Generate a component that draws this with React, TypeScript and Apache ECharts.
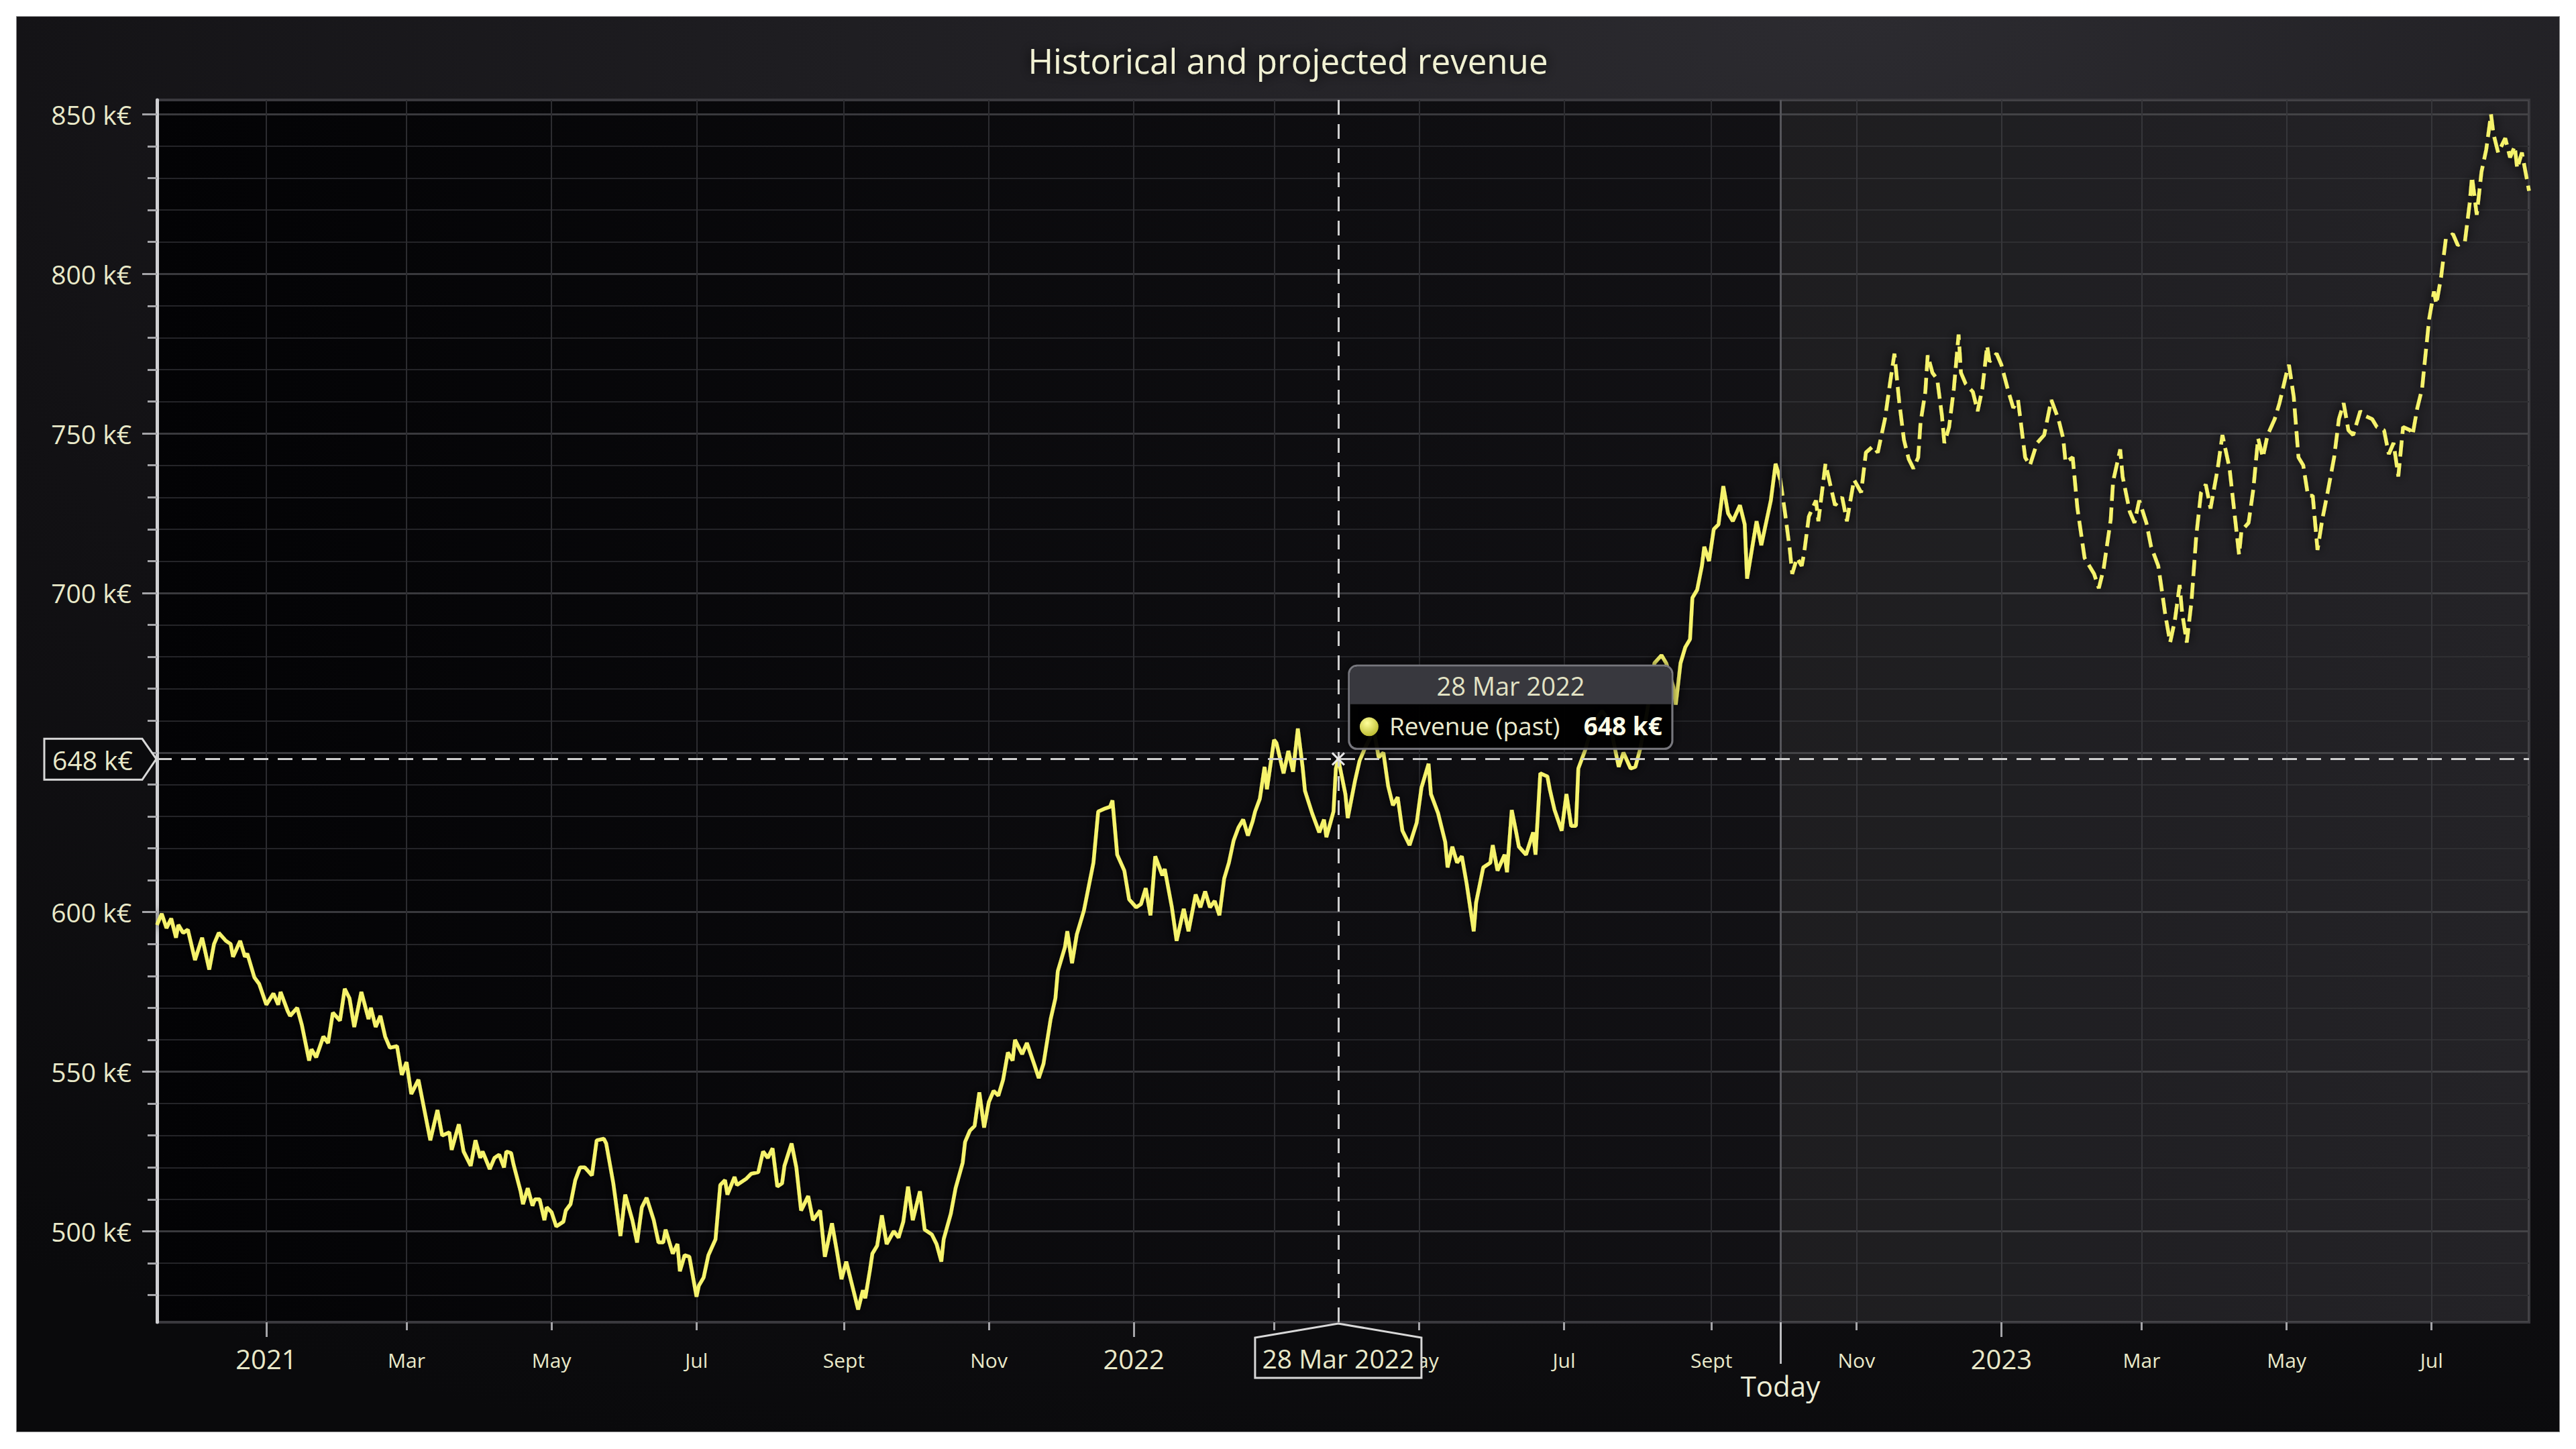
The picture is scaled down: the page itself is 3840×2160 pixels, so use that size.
import React, { useEffect, useRef } from 'react';
import * as echarts from 'echarts';

const TITLE = 'Historical and projected revenue';
const SERIES_PAST = 'Revenue (past)';
const SERIES_FUTURE = 'Revenue (projected)';
const UNIT = 'k€';
const BASE_DATE = '2021-01-01';
const START_DAY = -46;
const END_DAY = 952;
const TODAY_DAY = 637;
const TODAY_LABEL = 'Today';
const CROSS_DAY = 451;
const CROSS_VALUE = 648;
const Y_MIN = 471.5;
const Y_MAX = 854.5;

const yMajorTicks = [500, 550, 600, 650, 700, 750, 800, 850];
const yMinorTicks = [480, 490, 510, 520, 530, 540, 560, 570, 580, 590, 610, 620, 630, 640, 660, 670, 680, 690, 710, 720, 730, 740, 760, 770, 780, 790, 810, 820, 830, 840];
const monthTickDates = ['2021-03-01', '2021-05-01', '2021-07-01', '2021-09-01', '2021-11-01', '2022-03-01', '2022-05-01', '2022-07-01', '2022-09-01', '2022-11-01', '2023-03-01', '2023-05-01', '2023-07-01'];
const yearTickDates = ['2021-01-01', '2022-01-01', '2023-01-01'];
const monthLabels = ['Jan', 'Feb', 'Mar', 'Apr', 'May', 'Jun', 'Jul', 'Aug', 'Sept', 'Oct', 'Nov', 'Dec'];
const monthShort = ['Jan', 'Feb', 'Mar', 'Apr', 'May', 'Jun', 'Jul', 'Aug', 'Sep', 'Oct', 'Nov', 'Dec'];

// days are offsets from BASE_DATE
const pastDays = [-46, -44, -42, -40, -38, -37, -35, -33, -30, -27, -24, -22, -20, -17, -15, -14, -11, -9, -8, -5, -3, 0, 3, 5, 6, 9, 10, 13, 15, 18, 19, 21, 24, 26, 28, 31, 33, 35, 37, 40, 43, 44, 46, 48, 50, 52, 55, 57, 59, 61, 64, 69, 72, 74, 77, 78, 81, 83, 86, 88, 90, 91, 94, 96, 98, 100, 101, 103, 104, 107, 108, 110, 112, 113, 115, 117, 118, 120, 122, 125, 126, 128, 130, 132, 134, 137, 139, 142, 143, 146, 149, 151, 154, 156, 158, 160, 163, 165, 167, 168, 171, 173, 174, 176, 178, 181, 182, 184, 186, 189, 191, 193, 194, 197, 198, 202, 204, 207,
  209, 211, 213, 215, 217, 218, 221, 223, 225, 228, 230, 233, 235, 238, 240, 242, 244, 247, 249, 251, 252, 254, 255, 257, 259, 261, 264, 266, 268, 270, 272, 275, 277, 280, 282, 284, 285, 288, 290, 293, 294, 296, 298, 300, 302, 304, 306, 308, 310, 312, 314, 315, 318, 320, 323, 325, 327, 330, 332, 333, 336, 337, 339, 341, 344, 346, 348, 350, 353, 355, 356, 358, 361, 363, 366, 368, 370, 372, 374, 377, 378, 381, 383, 386, 388, 391, 393, 395, 397, 399, 401, 403, 405, 407, 409, 411, 413, 415, 416, 418, 420, 421, 424, 425, 428, 430, 432, 434, 436, 437, 440, 441, 443, 445, 446, 449, 450,
  451, 454, 455, 458, 460, 462, 466, 468, 470, 472, 474, 476, 478, 481, 484, 486, 489, 490, 493, 496, 497, 499, 501, 503, 505, 508, 509, 512, 515, 516, 518, 521, 522, 524, 526, 527, 530, 533, 534, 536, 539, 540, 542, 545, 547, 549, 551, 552, 555, 558, 562, 565, 569, 571, 574, 576, 578, 581, 584, 587, 589, 592, 593, 595, 597, 599, 600, 602, 604, 605, 607, 609, 611, 613, 615, 617, 620, 622, 623, 625, 627, 629, 630, 633, 635, 637];
const pastValues = [596, 599.5, 595, 598, 592, 596, 593.5, 594.5, 585, 592, 582, 590, 593.5, 591, 590, 586, 591, 586, 587, 579.5, 577.5, 571, 574.5, 571, 575, 569, 567.5, 570, 564.5, 553.5, 557, 554.5, 561, 559, 568.5, 566, 576, 573, 564, 575, 566.5, 570, 564, 567.5, 561, 557.5, 558, 549, 553, 543, 547.5, 528.5, 538, 530, 531, 525.5, 533.5, 525, 520.5, 528.5, 523, 525, 519.5, 523, 524, 520, 525, 524.5, 521, 512.5, 508.5, 513.5, 508, 510, 510, 503.5, 507.5, 506, 501.5, 503, 506.5, 508.5, 516, 520, 520, 517.5, 528.5, 529, 527.5, 515, 498.5, 511.5, 503.5, 496.5, 507.5, 510.5, 503.5, 496.5, 496.5, 500.5, 493, 496, 487.5, 492.5, 492, 479.5, 483, 485.5, 492.5, 497.5, 514.5, 516, 511.5, 517, 514.5, 516.5, 518, 518.5,
  525, 523, 526, 514, 515, 520.5, 527.5, 520, 506.5, 511, 503.5, 506.5, 492, 502.5, 494, 485, 490.5, 481.5, 475.5, 481.5, 479, 488, 493, 495.5, 505, 496, 500, 498, 503, 514, 503.5, 512.5, 500.5, 499, 496, 490.5, 497.5, 505.5, 513.5, 521.5, 528, 531.5, 533, 543.5, 532.5, 540.5, 544, 542.5, 547.5, 556, 553.5, 560, 555.5, 559, 552.5, 548, 552.5, 566.5, 573, 581.5, 589, 594, 584, 593, 600.5, 608, 615.5, 631.5, 632.5, 633, 635, 618, 613, 604, 601.5, 602.5, 607.5, 599, 617.5, 611.5, 613.5, 601.5, 591, 601, 594, 605.5, 601.5, 606.5, 601.5, 603.5, 599, 610.5, 615.5, 622.5, 626.5, 629, 624, 628.5, 631.5, 635.5, 645.5, 638.5, 654, 653, 643.5, 650.5, 644, 657.5, 645.5, 638, 631, 629, 625, 629, 623.5, 631.5, 645,
  648, 637, 629.5, 641, 647.5, 651, 657, 648.5, 650, 639.5, 633.5, 636, 625.5, 621, 628, 639, 646.5, 637, 631, 622, 614, 620.5, 615.5, 617.5, 609, 594, 603, 614, 615.5, 621, 613, 618, 612.5, 632, 624.5, 620.5, 618, 625, 618, 643.5, 642.5, 638.5, 632, 625.5, 637, 627, 627, 645, 651, 659, 663, 660, 645.5, 650, 645, 645.5, 651, 663, 678, 680.5, 678, 670.5, 665, 678, 683, 685.5, 698.5, 701, 708.5, 714.5, 710, 720, 721.5, 733.5, 725, 722.5, 727.5, 721.5, 704.5, 713.5, 722.5, 715, 718.5, 729, 740.5, 735.5];

const futureDays = [637, 639, 641, 642, 644, 646, 647, 649, 652, 653, 656, 658, 660, 663, 665, 668, 671, 673, 676, 678, 681, 683, 685, 687, 689, 691, 693, 695, 696, 698, 699, 701, 703, 705, 706, 708, 710, 712, 713, 715, 718, 720, 722, 724, 725, 728, 730, 733, 735, 737, 740, 742, 745, 748, 751, 754, 756, 757, 760, 762, 765, 767, 769, 771, 773, 776, 777, 780, 781, 784, 786, 788, 791, 793, 796, 797, 799, 801, 803, 805, 806, 808, 810, 812, 814, 816, 818, 821, 823, 826, 828, 830, 831, 834, 836, 838, 840, 842, 845, 847, 850, 851, 853, 855, 857, 859, 861, 863, 865, 867, 870, 872, 874, 876, 878, 881, 883, 886, 888, 891, 893, 895, 897, 899, 902, 903, 905, 907, 908, 910, 912, 913, 915, 917, 920, 922, 925, 927, 928, 930, 932, 934, 936, 937, 939, 942, 944, 946, 947, 949, 950, 952];
const futureValues = [735.5, 725, 713.5, 706, 711, 708.5, 712.5, 724, 729, 722.5, 740.5, 734, 727.5, 730, 722.5, 735.5, 731.5, 744, 746, 744, 754.5, 765, 775, 760, 748, 742, 739, 742.5, 753.5, 763, 774.5, 769, 767, 755.5, 747, 752, 764, 781, 769, 765.5, 763, 757, 764, 777.5, 772.5, 775, 771.5, 763, 758, 760.5, 742.5, 740, 747, 749.5, 760.5, 754.5, 748.5, 741, 742.5, 726.5, 711, 708.5, 706, 701.5, 707.5, 723, 735, 745, 736.5, 725.5, 722, 729, 722, 714.5, 708.5, 703.5, 693, 684.5, 691.5, 702.5, 694, 684.5, 697.5, 718, 731.5, 734, 726.5, 739, 749.5, 739, 725.5, 712, 719.5, 722, 732.5, 748.5, 742.5, 749.5, 754.5, 759.5, 769, 771.5, 761.5, 742.5, 740, 730.5, 730.5, 713.5, 723, 730.5, 742.5, 754.5, 759.5, 751, 749.5, 757, 755.5, 754.5, 752, 751, 743.5, 747, 736.5, 752, 751, 749.5, 758, 764, 771.5, 786, 794.5, 790.5, 799, 811, 812.5, 809, 810, 822, 830.5, 818.5, 832, 839, 850, 844, 838, 842.5, 836.5, 840, 833, 838, 834, 826];

const FONT = '"Open Sans", "Noto Sans", sans-serif';
const TEXT_COLOR = '#e9e9c9';
const LINE_COLOR = '#f6f36c';

function dayToTs(day: number): number {
  const [y, m, d] = BASE_DATE.split('-').map(Number);
  return new Date(y, m - 1, d + day).getTime();
}
function dateToTs(s: string): number {
  const [y, m, d] = s.split('-').map(Number);
  return new Date(y, m - 1, d).getTime();
}

export default function App() {
  const ref = useRef<HTMLDivElement>(null);

  useEffect(() => {
    document.body.style.margin = '0';
    document.body.style.overflow = 'hidden';
    if (!ref.current) return;
    const chart = echarts.init(ref.current, null, { renderer: 'svg', width: 3840, height: 2160 });

    const X_MIN = dayToTs(START_DAY);
    const X_MAX = dayToTs(END_DAY);
    const todayTs = dayToTs(TODAY_DAY);
    const crossTs = dayToTs(CROSS_DAY);
    const pastData = pastDays.map((d, i) => [dayToTs(d), pastValues[i]]);
    const futureData = futureDays.map((d, i) => [dayToTs(d), futureValues[i]]);
    const monthTs = monthTickDates.map(dateToTs);
    const yearTs = yearTickDates.map(dateToTs);
    const DAY_MS = 86400000;
    // labels hidden behind the crosshair's axis labels (as in the reference)
    const monthLabelTs = monthTs.filter((t) => Math.abs(t - crossTs) > 30 * DAY_MS);
    const yLabelValues = yMajorTicks.filter((v) => Math.abs(v - CROSS_VALUE) > 8);

    const tickStyle = { color: '#a4a4a8', width: 3 };
    const vGrid = { show: true, lineStyle: { color: '#2c2c30', width: 2 } };
    const lineGlow = { shadowColor: 'rgba(0,0,0,0.95)', shadowBlur: 16 };

    const xBase = {
      type: 'value',
      min: X_MIN,
      max: X_MAX,
      position: 'bottom',
      scale: true,
      minorTick: { show: false },
      minorSplitLine: { show: false },
    };

    chart.setOption({
      animation: false,
      backgroundColor: 'transparent',
      textStyle: { fontFamily: FONT },
      title: {
        text: TITLE,
        left: 'center',
        top: 59,
        padding: 0,
        textStyle: {
          color: '#f1f1d3',
          fontSize: 51,
          lineHeight: 62,
          fontWeight: 'normal',
          fontFamily: FONT,
          textShadowColor: 'rgba(0,0,0,0.95)',
          textShadowBlur: 18,
        },
      },
      grid: {
        left: 234,
        top: 149,
        right: 70,
        bottom: 189,
        show: true,
        outerBoundsMode: 'none',
        containLabel: false,
        borderColor: '#3a393e',
        borderWidth: 4,
        backgroundColor: new echarts.graphic.LinearGradient(0, 0, 1, 0, [
          { offset: 0, color: '#030305' },
          { offset: 1, color: '#19181c' },
        ]),
      },
      xAxis: [
        {
          ...xBase,
          axisLine: { show: true, lineStyle: { color: '#d6d6d8', width: 6, shadowColor: 'rgba(0,0,0,0.8)', shadowBlur: 6, shadowOffsetY: 3 } },
          axisTick: { show: true, length: 12, customValues: monthTs, lineStyle: tickStyle },
          axisLabel: {
            show: true,
            customValues: monthLabelTs,
            formatter: (v: number) => monthLabels[new Date(v).getMonth()],
            color: TEXT_COLOR,
            fontSize: 30,
            fontFamily: FONT,
            margin: 41,
          },
          splitLine: vGrid,
        },
        {
          ...xBase,
          axisLine: { show: false },
          axisTick: { show: true, length: 22, customValues: yearTs, lineStyle: tickStyle },
          axisLabel: {
            show: true,
            customValues: yearTs,
            formatter: (v: number) => String(new Date(v).getFullYear()),
            color: TEXT_COLOR,
            fontSize: 40,
            fontFamily: FONT,
            margin: 34,
          },
          splitLine: vGrid,
        },
        {
          ...xBase,
          axisLine: { show: false },
          axisTick: { show: true, length: 62, customValues: [todayTs], lineStyle: { color: '#bdbdc0', width: 3 } },
          axisLabel: {
            show: true,
            customValues: [todayTs],
            formatter: () => TODAY_LABEL,
            color: '#ededd5',
            fontSize: 42,
            fontFamily: FONT,
            margin: 73,
          },
          splitLine: { show: false },
        },
      ],
      yAxis: [
        {
          type: 'value',
          min: Y_MIN,
          max: Y_MAX,
          position: 'left',
          axisLine: { show: true, lineStyle: { color: '#cfcfd2', width: 5 } },
          axisTick: { show: true, length: 14, customValues: yMinorTicks, lineStyle: tickStyle },
          axisLabel: { show: false },
          splitLine: { show: true, lineStyle: { color: '#242428', width: 2 } },
        },
        {
          type: 'value',
          min: Y_MIN,
          max: Y_MAX,
          position: 'left',
          axisLine: { show: false },
          axisTick: { show: true, length: 22, customValues: yMajorTicks, lineStyle: tickStyle },
          axisLabel: {
            show: true,
            customValues: yLabelValues,
            formatter: (v: number) => `${v} ${UNIT}`,
            color: TEXT_COLOR,
            fontSize: 39,
            fontFamily: FONT,
            margin: 38,
          },
          splitLine: { show: true, lineStyle: { color: '#39393d', width: 3 } },
        },
      ],
      series: [
        {
          name: SERIES_FUTURE,
          type: 'line',
          xAxisIndex: 0,
          yAxisIndex: 0,
          data: futureData,
          showSymbol: false,
          symbol: 'none',
          z: 3,
          lineStyle: { color: LINE_COLOR, width: 5.5, type: [24, 10], ...lineGlow },
          emphasis: { disabled: true },
          markArea: {
            silent: true,
            itemStyle: { color: 'rgba(255,255,255,0.05)' },
            data: [[{ xAxis: todayTs }, { xAxis: X_MAX }]],
          },
          markLine: {
            silent: true,
            symbol: ['none', 'none'],
            label: { show: false },
            lineStyle: { color: '#55555a', width: 3, type: 'solid' },
            data: [{ xAxis: todayTs }],
          },
        },
        {
          name: SERIES_PAST,
          type: 'line',
          xAxisIndex: 0,
          yAxisIndex: 0,
          data: pastData,
          showSymbol: false,
          symbol: 'none',
          z: 4,
          lineStyle: { color: LINE_COLOR, width: 5.5, ...lineGlow },
          emphasis: { disabled: true },
          markLine: {
            silent: true,
            symbol: ['none', 'none'],
            label: { show: false },
            lineStyle: { color: '#cfcfcf', width: 3, type: [22, 14] },
            data: [{ xAxis: crossTs }, { yAxis: CROSS_VALUE }],
          },
        },
      ],
    });

    try {
      const pt = chart.convertToPixel({ xAxisIndex: 0, yAxisIndex: 0 }, [crossTs, CROSS_VALUE]) as number[];
      const px = pt[0];
      const py = pt[1];
      const axisX = chart.convertToPixel({ xAxisIndex: 0 }, X_MIN) as number;
      const axisY = chart.convertToPixel({ yAxisIndex: 0 }, Y_MIN) as number;
      const cd = new Date(crossTs);
      const crossLabel = `${cd.getDate()} ${monthShort[cd.getMonth()]} ${cd.getFullYear()}`;
      const valueLabel = `${CROSS_VALUE} ${UNIT}`;
      const Z = 100;

      const txt = (text: string, x: number, y: number, size: number, align: string, color: string, bold = false) => ({
        type: 'text',
        z: Z + 2,
        x,
        y,
        style: {
          text,
          fill: color,
          font: `${bold ? 'bold ' : ''}${size}px ${FONT}`,
          align,
          textAlign: align,
          verticalAlign: 'middle',
          textVerticalAlign: 'middle',
        },
      });

      const tipX = px + 16;
      const tipY = py - 139;

      chart.setOption({
        graphic: {
          z: Z,
          elements: [
            {
              type: 'rect',
              z: Z,
              shape: { x: tipX, y: tipY, width: 482, height: 124, r: 12 },
              style: { fill: 'rgba(4,4,5,0.9)', stroke: '#77777d', lineWidth: 3, shadowBlur: 16, shadowColor: 'rgba(0,0,0,0.7)' },
            },
            {
              type: 'rect',
              z: Z + 1,
              shape: { x: tipX + 1.5, y: tipY + 1.5, width: 479, height: 56, r: [11, 11, 0, 0] },
              style: { fill: '#38383e' },
            },
            txt(crossLabel, tipX + 241, tipY + 30, 38, 'center', '#e2e2c4'),
            {
              type: 'circle',
              z: Z + 2,
              shape: { cx: tipX + 30, cy: tipY + 91, r: 14 },
              style: {
                fill: new echarts.graphic.RadialGradient(0.4, 0.3, 0.8, [
                  { offset: 0, color: '#ffff9a' },
                  { offset: 1, color: '#b4b424' },
                ]),
              },
            },
            txt(SERIES_PAST, tipX + 60, tipY + 89, 37, 'left', '#ebebcf'),
            txt(valueLabel, tipX + 467, tipY + 89, 37, 'right', '#fbfbe6', true),
            {
              type: 'polygon',
              z: Z,
              shape: {
                points: [
                  [axisX - 168, py - 30],
                  [axisX - 22, py - 30],
                  [axisX - 1, py],
                  [axisX - 22, py + 31],
                  [axisX - 168, py + 31],
                ],
              },
              style: { fill: '#0b0b0d', stroke: '#d8d8d8', lineWidth: 3 },
            },
            txt(valueLabel, axisX - 96, py + 1, 39, 'center', TEXT_COLOR),
            {
              type: 'polygon',
              z: Z,
              shape: {
                points: [
                  [px, axisY + 2],
                  [px + 124, axisY + 23],
                  [px + 124, axisY + 83],
                  [px - 124, axisY + 83],
                  [px - 124, axisY + 23],
                ],
              },
              style: { fill: '#0b0b0d', stroke: '#d8d8d8', lineWidth: 3 },
            },
            txt(crossLabel, px, axisY + 53, 39, 'center', TEXT_COLOR),
            { type: 'line', z: Z + 2, shape: { x1: px - 9, y1: py - 9, x2: px + 9, y2: py + 9 }, style: { stroke: '#e8e8e8', lineWidth: 3 } },
            { type: 'line', z: Z + 2, shape: { x1: px - 9, y1: py + 9, x2: px + 9, y2: py - 9 }, style: { stroke: '#e8e8e8', lineWidth: 3 } },
          ],
        },
      });
    } catch (e) {
      console.error(e);
    }

    return () => chart.dispose();
  }, []);

  return (
    <div style={{ position: 'absolute', left: 0, top: 0, width: 3840, height: 2160, background: '#ffffff', overflow: 'hidden' }}>
      <div
        style={{
          position: 'absolute',
          left: 24,
          top: 24,
          width: 3792,
          height: 2111,
          boxSizing: 'border-box',
          border: '1px solid #8a8a8c',
          background: 'radial-gradient(120% 110% at 72% 0%, #2c2b30 0%, #1e1d21 35%, #121114 65%, #0a0a0c 100%)',
        }}
      />
      <div ref={ref} style={{ position: 'absolute', left: 0, top: 0, width: 3840, height: 2160 }} />
    </div>
  );
}
